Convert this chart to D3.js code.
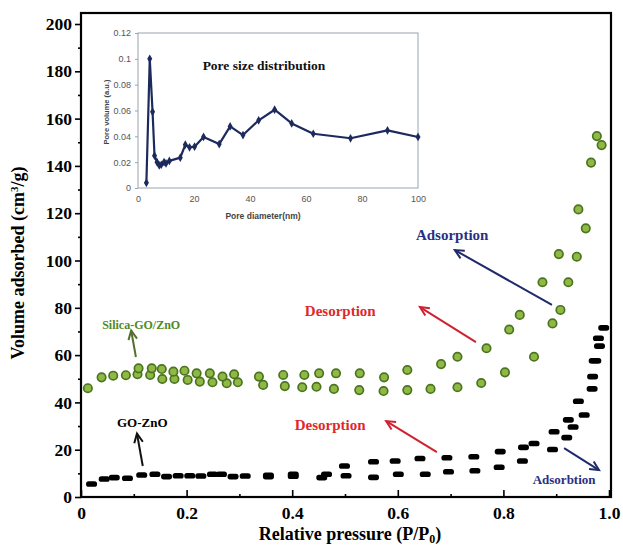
<!DOCTYPE html>
<html>
<head>
<meta charset="utf-8">
<script src="https://cdn.jsdelivr.net/npm/d3@7"></script>
<style>
body { margin: 0; background: #fff; }
text { font-family: 'Liberation Serif', 'Times New Roman', serif; }
.inset text { font-family: 'Liberation Sans', Arial, sans-serif; }
</style>
</head>
<body>
<script>
// values: [P/P0, volume]
const silicaAds = [[0.013,46.0],[0.039,50.6],[0.061,51.3],[0.085,51.5],[0.107,51.9],[0.131,51.6],[0.154,49.9],[0.177,49.9],[0.202,49.5],[0.225,48.8],[0.249,48.5],[0.276,48.1],[0.297,48.5],[0.345,47.4],[0.386,46.9],[0.419,46.4],[0.446,46.6],[0.479,45.7],[0.527,45.2],[0.573,44.8],[0.618,45.2],[0.662,45.7],[0.713,46.4],[0.758,48.2],[0.803,52.7],[0.858,59.3],[0.893,73.4],[0.908,79.1],[0.923,90.8],[0.939,101.6],[0.956,113.6],[0.966,141.4],[0.986,148.8]];
const silicaDes = [[0.109,54.4],[0.134,54.4],[0.153,54.1],[0.175,53.0],[0.196,53.4],[0.219,52.3],[0.244,52.3],[0.268,50.9],[0.290,51.9],[0.337,50.9],[0.383,51.6],[0.423,51.6],[0.451,52.3],[0.483,52.3],[0.528,52.3],[0.574,50.6],[0.618,53.7],[0.682,56.2],[0.713,59.3],[0.768,62.9],[0.811,70.8],[0.831,77.0],[0.874,90.8],[0.905,102.7],[0.942,121.6],[0.977,152.6]];
const goAds = [[0.020,5.5],[0.044,7.6],[0.063,8.2],[0.088,7.9],[0.115,9.3],[0.140,9.6],[0.162,8.6],[0.184,9.0],[0.206,9.0],[0.227,8.9],[0.249,9.6],[0.266,9.6],[0.288,8.6],[0.311,8.9],[0.355,8.6],[0.402,8.8],[0.456,8.2],[0.502,9.0],[0.554,8.3],[0.601,9.6],[0.652,9.6],[0.696,10.7],[0.746,11.1],[0.792,12.6],[0.836,15.2],[0.893,20.1],[0.920,25.1],[0.932,29.6],[0.953,34.7],[0.969,50.9],[0.975,57.6],[0.982,63.8],[0.990,71.5]];
const goDes = [[0.355,9.2],[0.402,9.6],[0.465,9.6],[0.499,13.1],[0.554,14.9],[0.595,15.2],[0.642,16.3],[0.693,16.6],[0.744,17.0],[0.794,19.2],[0.838,21.0],[0.858,22.6],[0.896,27.6],[0.923,32.6],[0.942,40.5],[0.968,45.7],[0.972,57.6],[0.980,67.1]];

const xTicks = [0, 0.2, 0.4, 0.6, 0.8, 1.0];
const xMinor = [0.1, 0.3, 0.5, 0.7, 0.9];
const yTicks = [0, 20, 40, 60, 80, 100, 120, 140, 160, 180, 200];
const yMinor = [10, 30, 50, 70, 90, 110, 130, 150, 170, 190];

// inset: pore size distribution
const poreD = [3, 4.2, 5.2, 5.9, 6.8, 7.6, 8.3, 9.3, 10, 11.2, 15.1, 16.9, 18.4, 20.2, 23.4, 29, 32.9, 37.5, 43.1, 48.8, 54.9, 62.6, 75.9, 89.1, 100];
const poreV = [0.004, 0.1, 0.059, 0.025, 0.02, 0.0175, 0.018, 0.02, 0.019, 0.021, 0.0235, 0.0335, 0.0315, 0.032, 0.0395, 0.034, 0.0477, 0.041, 0.0524, 0.0606, 0.050, 0.042, 0.0385, 0.0446, 0.0395];
const insetXTicks = [0, 20, 40, 60, 80, 100];
const insetYTicks = [0, 0.02, 0.04, 0.06, 0.08, 0.1, 0.12];

const width = 623;
const height = 549;
const box = {left: 81, right: 611, top: 13, bottom: 497};

const svg = d3.select('body').append('svg')
    .attr('width', width)
    .attr('height', height);

const x = d3.scaleLinear().domain([0, 1]).range([81, 609]);
const y = d3.scaleLinear().domain([0, 200]).range([497, 24]);

// axes
svg.append('g')
    .attr('transform', `translate(${box.left},0)`)
    .call(d3.axisLeft(y).tickValues(yTicks).tickSize(6).tickPadding(3).tickFormat(d3.format('d')));
svg.append('g')
    .attr('transform', `translate(${box.left},0)`)
    .call(d3.axisLeft(y).tickValues(yMinor).tickSize(3).tickFormat(''));

svg.append('g')
    .attr('transform', `translate(0,${box.bottom})`)
    .call(d3.axisBottom(x).tickValues(xTicks).tickSizeInner(-7).tickSizeOuter(0).tickPadding(10)
        .tickFormat(d => d === 0 ? '0' : d3.format('.1f')(d)));
svg.append('g')
    .attr('transform', `translate(0,${box.bottom})`)
    .call(d3.axisBottom(x).tickValues(xMinor).tickSizeInner(-3).tickSizeOuter(0).tickFormat(''));

svg.selectAll('.domain').remove();
svg.selectAll('.tick line').attr('stroke', '#000').attr('stroke-width', 1.6);
svg.selectAll('.tick text')
    .attr('fill', '#000')
    .style('font-family', "'Liberation Serif', serif")
    .style('font-size', '17.5px')
    .style('font-weight', 'bold');

svg.append('rect')
    .attr('x', box.left)
    .attr('y', box.top)
    .attr('width', box.right - box.left)
    .attr('height', box.bottom - box.top)
    .attr('fill', 'none')
    .attr('stroke', '#000')
    .attr('stroke-width', 2.2);

// axis titles
const yTitle = svg.append('text')
    .attr('transform', `translate(24,${(box.top + box.bottom) / 2 + 8}) rotate(-90)`)
    .attr('text-anchor', 'middle')
    .style('font-size', '18px')
    .style('font-weight', 'bold');
yTitle.append('tspan').text('Volume adsorbed (cm');
yTitle.append('tspan').text('3').attr('dy', -6).style('font-size', '11px');
yTitle.append('tspan').text('/g)').attr('dy', 6);

const xTitle = svg.append('text')
    .attr('x', 350)
    .attr('y', 540)
    .attr('text-anchor', 'middle')
    .style('font-size', '18px')
    .style('font-weight', 'bold');
xTitle.append('tspan').text('Relative pressure (P/P');
xTitle.append('tspan').text('0').attr('dy', 3).style('font-size', '12px');
xTitle.append('tspan').text(')').attr('dy', -3);

// GO-ZnO dashes
const dashW = 11, dashH = 5.6;
svg.append('g').selectAll('rect')
    .data(goAds.concat(goDes))
    .enter()
    .append('rect')
    .attr('x', d => x(d[0]) - dashW / 2)
    .attr('y', d => y(d[1]) - dashH / 2)
    .attr('width', dashW)
    .attr('height', dashH)
    .attr('rx', 2.6)
    .attr('fill', '#000');

// Silica-GO/ZnO circles
svg.append('g').selectAll('circle')
    .data(silicaAds.concat(silicaDes))
    .enter()
    .append('circle')
    .attr('cx', d => x(d[0]))
    .attr('cy', d => y(d[1]))
    .attr('r', 4.2)
    .attr('fill', '#8fb944')
    .attr('stroke', '#4b7420')
    .attr('stroke-width', 1.7);

// annotations
function arrow(p1, p2, color) {
    const x1 = x(p1[0]), y1 = y(p1[1]), x2 = x(p2[0]), y2 = y(p2[1]);
    const a = Math.atan2(y2 - y1, x2 - x1);
    const len = 10, spread = 0.45;
    svg.append('line')
        .attr('x1', x1).attr('y1', y1).attr('x2', x2).attr('y2', y2)
        .attr('stroke', color).attr('stroke-width', 2);
    svg.append('path')
        .attr('d', `M${x2 - len * Math.cos(a - spread)},${y2 - len * Math.sin(a - spread)}L${x2},${y2}L${x2 - len * Math.cos(a + spread)},${y2 - len * Math.sin(a + spread)}`)
        .attr('fill', 'none').attr('stroke', color).attr('stroke-width', 2);
}
function label(p, str, color, size) {
    svg.append('text')
        .attr('x', x(p[0]))
        .attr('y', y(p[1]))
        .attr('text-anchor', 'middle')
        .attr('dominant-baseline', 'central')
        .attr('fill', color)
        .style('font-size', size + 'px')
        .style('font-weight', 'bold')
        .text(str);
}

label([0.114, 72.7], 'Silica-GO/ZnO', '#4f8a24', 12);
arrow([0.104, 59.2], [0.095, 70.4], '#55702e');
label([0.116, 31.3], 'GO-ZnO', '#000', 13);
arrow([0.117, 13.1], [0.106, 26.8], '#111');
label([0.491, 78.6], 'Desorption', '#e0282c', 15);
arrow([0.748, 65.5], [0.642, 80.3], '#cf2130');
label([0.472, 30.4], 'Desorption', '#e0282c', 15);
arrow([0.674, 19.0], [0.578, 32.1], '#cf2130');
label([0.703, 110.8], 'Adsorption', '#2b2f82', 15);
arrow([0.892, 81.2], [0.708, 104.4], '#1f2a6a');
label([0.915, 7.6], 'Adsorbtion', '#2b2f82', 13);
arrow([0.915, 20.7], [0.981, 11.4], '#1f2a6a');

// inset chart
const inset = svg.append('g').attr('class', 'inset');
const ix = d3.scaleLinear().domain([0, 100]).range([138, 418]);
const iy = d3.scaleLinear().domain([0, 0.12]).range([188, 33]);

inset.append('rect')
    .attr('x', 138).attr('y', 33)
    .attr('width', 280).attr('height', 155)
    .attr('fill', 'none')
    .attr('stroke', '#9aa3b3')
    .attr('stroke-width', 1);

inset.append('g')
    .attr('transform', 'translate(138,0)')
    .call(d3.axisLeft(iy).tickValues(insetYTicks).tickSize(3).tickPadding(4).tickFormat(d => d === 0 ? '0' : String(+d.toFixed(2))));
inset.append('g')
    .attr('transform', 'translate(0,188)')
    .call(d3.axisBottom(ix).tickValues(insetXTicks).tickSize(0).tickPadding(8));
inset.selectAll('.domain').remove();
inset.selectAll('.tick line').attr('stroke', '#9aa3b3');
inset.selectAll('.tick text')
    .attr('fill', '#555')
    .style('font-family', "'Liberation Sans', sans-serif")
    .style('font-size', '9px')
    .style('font-weight', 'normal');

const line = d3.line()
    .x((d, i) => ix(poreD[i]))
    .y(d => iy(d));
inset.append('path')
    .datum(poreV)
    .attr('d', line)
    .attr('fill', 'none')
    .attr('stroke', '#1d2a5e')
    .attr('stroke-width', 2.2)
    .attr('stroke-linejoin', 'round');
inset.selectAll('.pt')
    .data(poreV)
    .enter()
    .append('path')
    .attr('class', 'pt')
    .attr('transform', (d, i) => `translate(${ix(poreD[i])},${iy(d)})`)
    .attr('d', d3.symbol().type(d3.symbolDiamond).size(22))
    .attr('fill', '#1d2a5e');

inset.append('text')
    .attr('x', 264).attr('y', 65)
    .attr('text-anchor', 'middle')
    .attr('dominant-baseline', 'central')
    .style('font-family', "'Liberation Serif', serif")
    .style('font-size', '13.5px')
    .style('font-weight', 'bold')
    .attr('fill', '#111')
    .text('Pore size distribution');
inset.append('text')
    .attr('x', 263).attr('y', 216)
    .attr('text-anchor', 'middle')
    .attr('dominant-baseline', 'central')
    .style('font-size', '8.5px')
    .style('font-weight', 'bold')
    .attr('fill', '#444')
    .text('Pore diameter(nm)');
inset.append('text')
    .attr('transform', 'translate(106,112) rotate(-90)')
    .attr('text-anchor', 'middle')
    .attr('dominant-baseline', 'central')
    .style('font-size', '7.5px')
    .style('font-weight', 'bold')
    .attr('fill', '#444')
    .text('Pore volume (a.u.)');
</script>
</body>
</html>
